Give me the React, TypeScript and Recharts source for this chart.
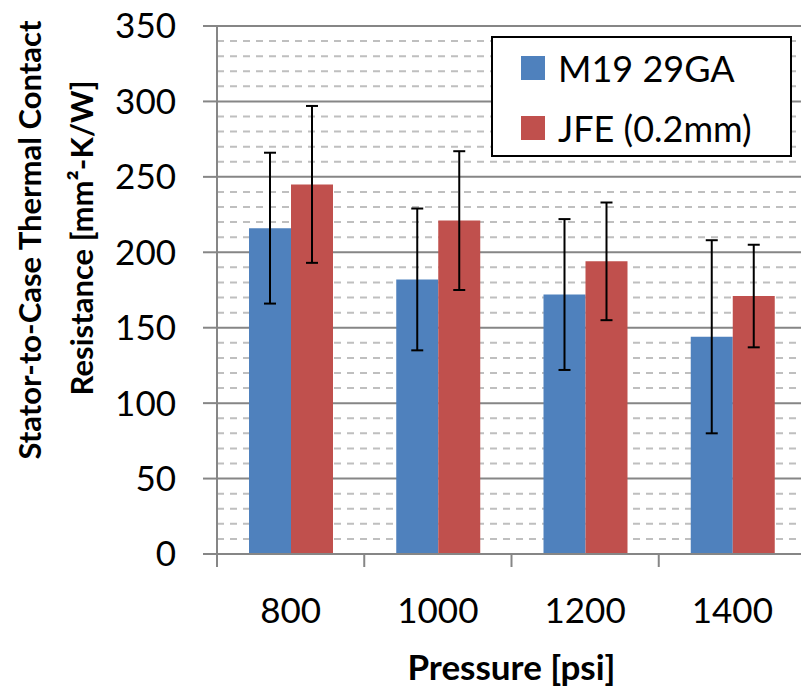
import React from "react";
import { BarChart, Bar, XAxis, YAxis, CartesianGrid, ErrorBar, Legend } from "recharts";

const pressures = [800, 1000, 1200, 1400];
const m19Values = [216, 182, 172, 144];
const m19Errors = [50, 47, 50, 64];
const jfeValues = [245, 221, 194, 171];
const jfeErrors = [52, 46, 39, 34];

const yMajorTicks = [0, 50, 100, 150, 200, 250, 300, 350];
const yMinorTicks = [
  10, 20, 30, 40, 60, 70, 80, 90, 110, 120, 130, 140, 160, 170, 180, 190, 210, 220, 230, 240, 260, 270,
  280, 290, 310, 320, 330, 340,
];
// category boundaries, Excel puts the x tick marks between the bars
const xEdges = [700, 900, 1100, 1300, 1500];
const xTicks = [700, 800, 900, 1000, 1100, 1200, 1300, 1400, 1500];

const series = [
  { key: "m19", errKey: "m19Err", name: "M19 29GA", color: "#4F81BD" },
  { key: "jfe", errKey: "jfeErr", name: "JFE (0.2mm)", color: "#C0504D" },
];

const data = pressures.map((p, i) => ({
  pressure: p,
  m19: m19Values[i],
  m19Err: m19Errors[i],
  jfe: jfeValues[i],
  jfeErr: jfeErrors[i],
}));

const axisGray = "#868686";
const font = "Lato";

const PressureTick = (props: any) => {
  const { x, y, payload } = props;
  if (xEdges.includes(payload.value)) {
    return <line x1={x} x2={x} y1={y} y2={y + 13} stroke={axisGray} strokeWidth={2} />;
  }
  return (
    <text x={x} y={y + 69} textAnchor="middle" fontFamily={font} fontSize={35} fill="#000">
      {payload.value}
    </text>
  );
};

const YTitle = () => (
  <g fontFamily={font} fontWeight="bold" fontSize={31} fill="#000">
    <text transform="translate(41,240) rotate(-90)" textAnchor="middle">
      Stator-to-Case Thermal Contact
    </text>
    <text transform="translate(93,238) rotate(-90)" textAnchor="middle">
      Resistance [mm²-K/W]
    </text>
  </g>
);

const XTitle = (props: any) => {
  const { viewBox } = props;
  return (
    <text
      x={viewBox.x + viewBox.width / 2}
      y={680}
      textAnchor="middle"
      fontFamily={font}
      fontWeight="bold"
      fontSize={35}
      fill="#000"
    >
      Pressure [psi]
    </text>
  );
};

const LegendBox = () => (
  <div
    style={{
      border: "2px solid #000",
      background: "#fff",
      width: 297,
      height: 117,
      fontFamily: font,
      fontSize: 36,
      color: "#000",
    }}
  >
    {series.map((s) => (
      <div key={s.key} style={{ display: "flex", alignItems: "center", height: 60, paddingLeft: 28 }}>
        <span style={{ width: 24, height: 24, background: s.color, display: "inline-block", marginRight: 13 }} />
        <span>{s.name}</span>
      </div>
    ))}
  </div>
);

export default function App() {
  return (
    <div style={{ position: "absolute", left: 0, top: 0, width: 801, height: 689, overflow: "hidden" }}>
      <BarChart
        width={810}
        height={689}
        data={data}
        margin={{ top: 26, right: 4, bottom: 0, left: 0 }}
        barGap={0}
        barSize={42}
      >
        <CartesianGrid
          vertical={false}
          horizontalValues={yMinorTicks}
          stroke="#BFBFBF"
          strokeWidth={2}
          strokeDasharray="7 6"
        />
        <CartesianGrid vertical={false} horizontalValues={yMajorTicks} stroke={axisGray} strokeWidth={2} />
        <XAxis
          dataKey="pressure"
          type="number"
          domain={[700, 1500]}
          ticks={xTicks}
          interval={0}
          height={135}
          tickSize={0}
          tickMargin={0}
          tickLine={false}
          axisLine={{ stroke: axisGray, strokeWidth: 2 }}
          tick={<PressureTick />}
          label={<XTitle />}
        />
        <YAxis
          domain={[0, 350]}
          ticks={yMajorTicks}
          interval={0}
          width={217}
          tickSize={14}
          tickMargin={27}
          axisLine={{ stroke: axisGray, strokeWidth: 2 }}
          tickLine={{ stroke: axisGray, strokeWidth: 2 }}
          tick={{ fontFamily: font, fontSize: 35, fill: "#000" }}
          label={<YTitle />}
        />
        <Legend
          layout="vertical"
          align="center"
          verticalAlign="middle"
          wrapperStyle={{ left: 491, top: 36, width: 301 }}
          content={<LegendBox />}
        />
        {series.map((s) => (
          <Bar key={s.key} dataKey={s.key} name={s.name} fill={s.color} isAnimationActive={false}>
            <ErrorBar dataKey={s.errKey} width={6} stroke="#000" strokeWidth={2} />
          </Bar>
        ))}
      </BarChart>
    </div>
  );
}
